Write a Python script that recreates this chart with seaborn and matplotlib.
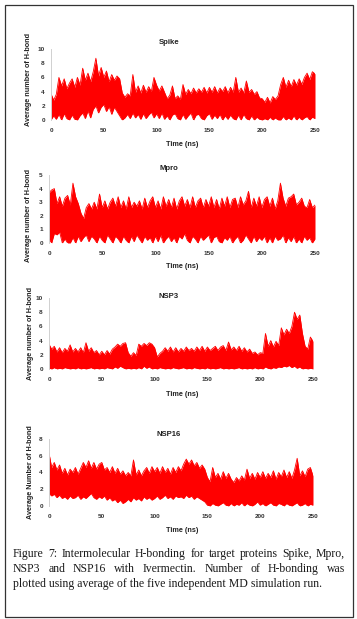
import numpy as np
import pandas as pd
import matplotlib
matplotlib.use("Agg")
import matplotlib.pyplot as plt
from matplotlib.patches import Rectangle
import seaborn as sns

time_ns = np.arange(0, 250.01, 2.5)

spike_hi = [3.7, 2.8, 3.6, 6.0, 4.8, 5.8, 4.4, 5.2, 5.8, 4.6,
            6.0, 4.9, 7.3, 5.6, 6.6, 5.4, 6.8, 8.7, 6.2, 7.4,
            6.0, 6.9, 5.4, 6.4, 5.6, 6.2, 5.8, 3.8, 3.2, 3.7,
            3.4, 6.4, 3.9, 4.8, 3.8, 4.9, 3.9, 4.7, 4.0, 6.0,
            4.9, 4.1, 4.8, 3.9, 3.0, 3.5, 4.8, 3.0, 3.4, 2.9,
            5.0, 3.6, 4.3, 3.7, 4.5, 3.8, 4.4, 3.9, 4.6, 3.8,
            4.6, 3.9, 4.7, 3.8, 4.5, 4.0, 4.7, 3.8, 4.6, 3.9,
            6.0, 3.9, 4.5, 3.8, 5.5, 3.9, 4.3, 3.6, 4.0, 3.1,
            3.0, 2.5, 3.2, 2.4, 3.3, 2.9, 3.4, 5.0, 6.0, 4.6,
            5.6, 4.7, 5.7, 4.9, 5.8, 5.0, 6.0, 6.6, 5.7, 6.8,
            6.5]
spike_lo = [0.0, 0.6, 0.1, 0.8, 0.0, 0.9, 0.2, 0.0, 0.7, 0.1,
            0.0, 0.6, 1.0, 0.2, 1.3, 0.3, 1.5, 2.0, 1.0, 1.8,
            2.2, 1.2, 1.9, 0.8, 1.8, 1.2, 0.6, 0.0, 0.3, 0.8,
            0.2, 1.0, 0.3, 0.8, 0.1, 0.9, 0.2, 0.7, 1.1, 0.3,
            0.9, 0.2, 1.0, 0.1, 0.6, 0.0, 0.7, 0.9, 0.2, 0.0,
            0.8, 0.1, 0.6, 1.0, 0.0, 0.7, 0.8, 0.2, 0.0, 0.6,
            0.9, 0.1, 0.7, 0.2, 0.8, 0.0, 0.6, 0.1, 0.7, 0.2,
            0.0, 0.7, 0.0, 0.8, 0.2, 0.0, 0.6, 0.0, 0.4, 0.1,
            0.0, 0.2, 0.0, 0.4, 0.0, 0.3, 0.0, 0.0, 0.5, 0.0,
            0.3, 0.0, 0.6, 0.0, 0.4, 0.0, 0.3, 0.5, 0.0, 0.4,
            0.2]

mpro_hi = [3.7, 3.9, 4.0, 2.9, 3.4, 2.7, 3.3, 3.5, 2.8, 4.4,
           3.4, 2.9, 2.2, 1.8, 2.6, 2.9, 2.5, 3.0, 2.5, 3.6,
           2.6, 3.1, 2.5, 3.0, 3.3, 2.7, 3.4, 2.6, 3.1, 2.5,
           3.4, 2.6, 3.0, 2.7, 3.1, 2.5, 3.3, 2.6, 3.1, 3.4,
           2.6, 3.1, 2.5, 3.4, 2.7, 3.2, 2.6, 3.3, 2.5, 3.1,
           3.4, 2.7, 3.2, 2.6, 3.4, 2.6, 3.1, 3.3, 2.6, 3.2,
           2.7, 3.4, 2.6, 3.2, 2.5, 3.3, 2.7, 3.4, 2.6, 3.2,
           3.3, 2.6, 3.4, 2.8, 3.1, 3.8, 2.6, 3.3, 2.7, 3.4,
           2.6, 3.2, 3.4, 2.7, 3.3, 2.5, 3.1, 4.4, 3.3, 2.7,
           3.3, 3.4, 3.6, 2.8, 3.0, 3.3, 2.7, 2.6, 3.2, 2.6,
           2.8]
mpro_lo = [0.3, 0.0, 0.7, 0.6, 0.8, 0.0, 0.3, 0.0, 0.0, 0.4,
           0.0, 0.5, 0.1, 0.4, 0.6, 0.1, 0.5, 0.3, 0.0, 0.5,
           0.2, 0.0, 0.6, 0.3, 0.0, 0.5, 0.3, 0.0, 0.5, 0.2,
           0.0, 0.5, 0.1, 0.6, 0.3, 0.0, 0.5, 0.2, 0.4, 0.0,
           0.5, 0.1, 0.6, 0.0, 0.3, 0.5, 0.1, 0.4, 0.0, 0.5,
           0.3, 0.7, 0.2, 0.0, 0.5, 0.3, 0.0, 0.5, 0.2, 0.4,
           0.6, 0.0, 0.4, 0.5, 0.1, 0.0, 0.4, 0.2, 0.5, 0.0,
           0.3, 0.5, 0.0, 0.2, 0.6, 0.3, 0.0, 0.5, 0.1, 0.4,
           0.2, 0.5, 0.0, 0.4, 0.0, 0.5, 0.2, 0.3, 0.6, 0.0,
           0.4, 0.1, 0.5, 0.0, 0.3, 0.0, 0.5, 0.2, 0.4, 0.0,
           0.3]

nsp3_hi = [3.5, 2.8, 3.2, 2.4, 3.0, 2.3, 2.9, 2.5, 3.4, 2.4,
           2.9, 2.4, 3.0, 2.3, 3.7, 2.5, 3.0, 2.3, 2.6, 2.0,
           2.5, 2.0, 2.6, 2.1, 2.8, 3.1, 3.5, 3.2, 3.6, 3.7,
           2.3, 1.8, 2.3, 1.9, 3.5, 3.2, 3.6, 3.3, 3.7, 3.5,
           3.0, 1.7, 2.2, 2.5, 3.0, 2.5, 3.1, 2.4, 3.0, 2.4,
           2.9, 2.5, 3.1, 2.6, 2.9, 2.5, 3.1, 2.6, 3.2, 2.5,
           3.1, 2.6, 2.9, 3.2, 2.6, 3.1, 3.3, 2.6, 3.8, 2.7,
           3.1, 2.6, 3.2, 2.5, 3.0, 2.4, 2.8, 2.2, 2.4, 2.0,
           2.3, 2.2, 5.0, 3.2, 4.0, 3.1, 3.9, 3.3, 5.8, 4.8,
           5.6, 5.0, 6.0, 8.0, 7.0, 7.6, 5.0, 3.2, 2.8, 4.5,
           3.9]
nsp3_lo = [0.1, 0.0, 0.2, 0.0, 0.1, 0.0, 0.2, 0.1, 0.0, 0.1,
           0.0, 0.2, 0.0, 0.1, 0.0, 0.1, 0.2, 0.0, 0.1, 0.0,
           0.1, 0.0, 0.2, 0.1, 0.0, 0.3, 0.1, 0.4, 0.2, 0.0,
           0.1, 0.0, 0.1, 0.0, 0.2, 0.0, 0.4, 0.1, 0.3, 0.0,
           0.1, 0.0, 0.2, 0.1, 0.0, 0.1, 0.0, 0.2, 0.1, 0.0,
           0.1, 0.2, 0.0, 0.1, 0.0, 0.2, 0.1, 0.0, 0.1, 0.0,
           0.2, 0.0, 0.1, 0.0, 0.1, 0.2, 0.0, 0.1, 0.0, 0.1,
           0.0, 0.1, 0.2, 0.0, 0.1, 0.0, 0.1, 0.0, 0.2, 0.0,
           0.1, 0.0, 0.3, 0.1, 0.0, 0.2, 0.1, 0.3, 0.2, 0.4,
           0.3, 0.5, 0.2, 0.4, 0.1, 0.3, 0.0, 0.1, 0.0, 0.1,
           0.0]

nsp16_hi = [6.3, 4.6, 5.2, 4.3, 4.9, 3.9, 4.5, 3.7, 4.4, 4.0,
            4.6, 3.8, 4.5, 5.2, 4.6, 5.4, 4.5, 5.2, 4.4, 5.0,
            5.2, 4.3, 4.6, 4.0, 4.7, 3.9, 4.5, 3.8, 4.2, 3.6,
            4.0, 3.6, 5.5, 3.7, 4.3, 3.6, 4.2, 4.6, 3.9, 4.7,
            4.1, 4.6, 3.9, 4.7, 4.0, 4.5, 3.8, 4.6, 4.0, 4.7,
            4.2, 5.0, 5.6, 5.0, 5.5, 4.8, 5.2, 4.5, 4.9, 4.4,
            3.4, 2.9, 4.6, 3.4, 3.9, 3.2, 4.1, 3.3, 3.9, 3.2,
            2.8, 3.4, 3.0, 3.6, 3.1, 4.4, 3.3, 3.9, 3.2, 4.0,
            3.4, 4.1, 3.3, 3.9, 3.4, 4.2, 3.2, 4.0, 3.5, 4.3,
            3.4, 4.1, 3.3, 4.3, 5.7, 3.6, 4.2, 3.5, 4.4, 4.6,
            3.6]
nsp16_lo = [1.5, 1.2, 1.4, 1.0, 1.3, 0.9, 1.1, 0.8, 1.2, 0.9,
            1.0, 1.3, 0.8, 1.1, 0.9, 1.2, 1.5, 1.0, 0.8, 1.1,
            0.9, 1.2, 0.7, 1.0, 0.6, 0.8, 0.4, 0.7, 0.3, 0.5,
            0.8, 0.5, 1.0, 0.7, 0.9, 0.6, 1.1, 0.8, 1.0, 0.7,
            0.9, 1.2, 0.8, 1.0, 1.3, 0.9, 1.1, 0.8, 1.2, 1.0,
            1.1, 0.9, 1.3, 1.0, 1.2, 0.8, 1.1, 0.9, 0.7, 0.5,
            0.1, 0.0, 0.3, 0.1, 0.0, 0.2, 0.4, 0.1, 0.0, 0.3,
            0.0, 0.2, 0.1, 0.4, 0.0, 0.3, 0.1, 0.0, 0.2, 0.5,
            0.1, 0.3, 0.0, 0.2, 0.4, 0.1, 0.0, 0.3, 0.2, 0.0,
            0.3, 0.1, 0.0, 0.2, 0.4, 0.0, 0.1, 0.3, 0.0, 0.2,
            0.1]

titles = ["Spike", "Mpro", "NSP3", "NSP16"]
ylabels = ["Average number of H-bond", "Average number of H-bond",
           "Average number of H-bond", "Average Number of H-bond"]
y_max = [10, 5, 10, 8]
y_step = [2, 1, 2, 2]
x_ticks = [0, 50, 100, 150, 200, 250]
xlabel = "Time (ns)"
caption_lines = [
    "Figure 7: Intermolecular H-bonding for target proteins Spike, Mpro,",
    "NSP3 and NSP16 with Ivermectin. Number of H-bonding was",
    "plotted using average of the five independent MD simulation run.",
]

series = [(spike_lo, spike_hi), (mpro_lo, mpro_hi), (nsp3_lo, nsp3_hi), (nsp16_lo, nsp16_hi)]

# ---------------- layout (pixels) ----------------
W, H = 357, 619
sns.set_theme(style="white")
plt.rcParams["font.family"] = ["Liberation Sans", "DejaVu Sans"]

fig = plt.figure(figsize=(W / 100, H / 100), dpi=100)
fig.patch.set_facecolor("white")

# axes boxes: (left, right, top, bottom) in px
boxes = [(51, 315, 49, 120), (49, 315, 175, 243), (49, 313, 298, 369), (49, 313, 439, 506)]
title_y = [43, 169, 296, 434]
ylabel_x = [29, 29, 30, 30]
ylabel_y = [80, 215, 334, 472]
xlabel_y = [144, 267, 394, 530]


def fx(x):
    return x / W


def fy(y):
    return 1 - y / H


RED = "#ff0000"
for i, (lo, hi) in enumerate(series):
    l, r, t, b = boxes[i]
    ax = fig.add_axes([fx(l), fy(b), (r - l) / W, (b - t) / H])
    df = pd.DataFrame({"t": time_ns, "lo": lo, "hi": hi})
    ax.fill_between(df["t"], df["lo"], df["hi"], color=RED, lw=0)
    sns.lineplot(data=df, x="t", y="hi", estimator=None, color=RED, lw=0.6, ax=ax)
    sns.lineplot(data=df, x="t", y="lo", estimator=None, color=RED, lw=0.6, ax=ax)
    ax.set_xlim(0, 250)
    ax.set_ylim(0, y_max[i])
    yt = np.arange(0, y_max[i] + 0.01, y_step[i])
    ax.set_xticks(x_ticks)
    ax.set_yticks(yt)
    ax.set_xticklabels([str(v) for v in x_ticks])
    ax.set_yticklabels([str(int(v)) for v in yt])
    ax.set_xlabel("")
    ax.set_ylabel("")
    ax.set_facecolor("none")
    ax.grid(False)
    for s in ["top", "right", "bottom"]:
        ax.spines[s].set_visible(False)
    ax.spines["left"].set_color("#d0d0d0")
    ax.spines["left"].set_linewidth(0.7)
    ax.tick_params(axis="both", length=0, labelsize=4.6, colors="#333333")
    ax.tick_params(axis="y", pad=4.5)
    ax.tick_params(axis="x", pad=5.5)
    for lab in ax.get_xticklabels() + ax.get_yticklabels():
        lab.set_fontweight("bold")

    fig.text(fx(169), fy(title_y[i]), titles[i], ha="center", va="center",
             fontsize=5.6, fontweight="bold", color="#222222")
    fig.text(fx(ylabel_x[i]), fy(ylabel_y[i]), ylabels[i], ha="center", va="center",
             rotation=90, fontsize=5.2, fontweight="bold", color="#222222")
    fig.text(fx(182), fy(xlabel_y[i]), xlabel, ha="center", va="center",
             fontsize=5.2, fontweight="bold", color="#222222")

# outer border
fig.add_artist(Rectangle((fx(5), fy(617)), (353 - 5) / W, (617 - 5) / H,
                         transform=fig.transFigure, fill=False,
                         edgecolor="#333333", lw=0.9))

# caption (justified lines)
cap_family = ["Liberation Serif", "DejaVu Serif"]
cap_size = 8.5
cap_y = [554, 569, 584]
x0, x1 = 13, 345
renderer = fig.canvas.get_renderer()
for k, line in enumerate(caption_lines):
    if k < 2:
        words = line.split(" ")
        texts = [fig.text(0, fy(cap_y[k]), w, ha="left", va="center",
                          fontsize=cap_size, family=cap_family, color="#1a1a1a")
                 for w in words]
        widths = [t.get_window_extent(renderer).width for t in texts]
        gap = (x1 - x0 - sum(widths)) / (len(words) - 1)
        x = x0
        for t, w in zip(texts, widths):
            t.set_x(fx(x))
            x += w + gap
    else:
        fig.text(fx(x0), fy(cap_y[k]), line, ha="left", va="center",
                 fontsize=cap_size, family=cap_family, color="#1a1a1a")

fig.savefig("out.png", dpi=100, facecolor="white")
